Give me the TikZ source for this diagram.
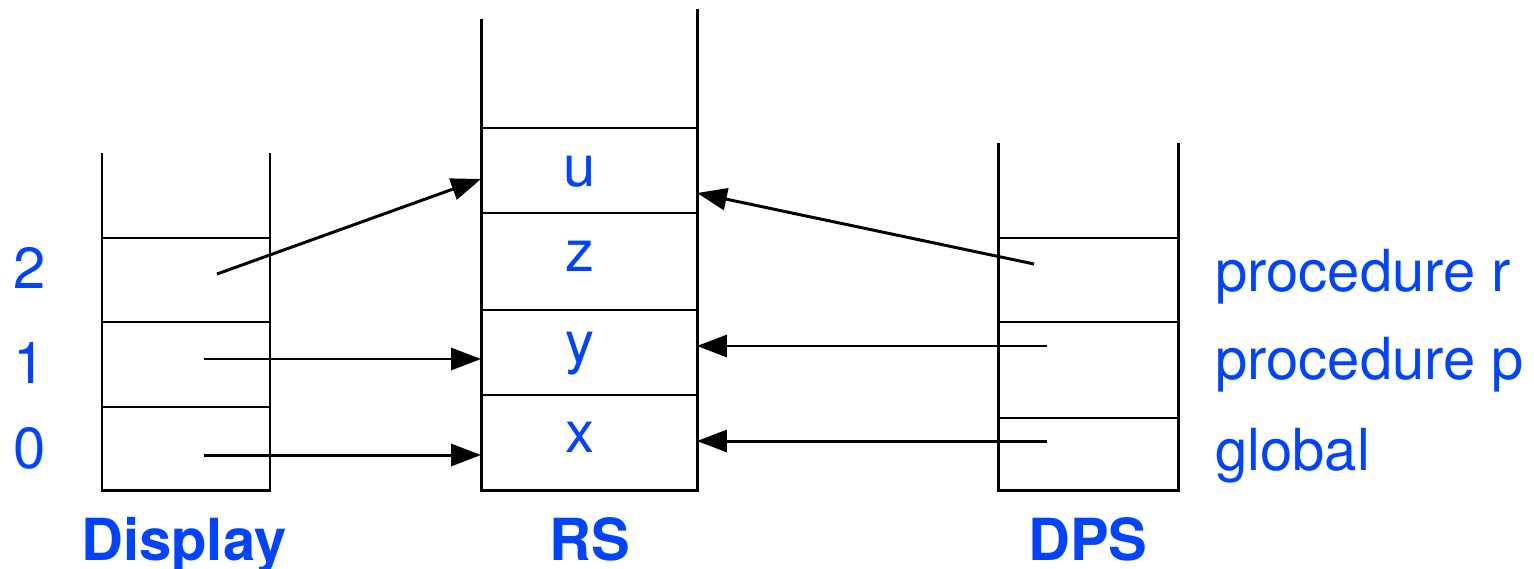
\documentclass[tikz,border=0pt]{standalone}
\usepackage{fontspec}
\setmainfont{TeX Gyre Heros}
\usetikzlibrary{arrows.meta}
\definecolor{lblue}{RGB}{0,68,255}
\begin{document}
\begin{tikzpicture}[x=0.02cm,y=-0.02cm,
  wall/.style={line width=1.7pt},
  ptr/.style={line width=1.7pt,-{Triangle[length=17pt,width=12.5pt]}},
  lbl/.style={text=lblue,font=\fontsize{33}{40}\selectfont,inner sep=0pt,anchor=base},
  lblw/.style={lbl,anchor=base west},
  ttl/.style={text=lblue,font=\fontsize{33}{40}\selectfont\bfseries,inner sep=0pt,anchor=base}]
\useasboundingbox (0,0) rectangle (1534,568);
% Display stack
\draw[wall] (102,153) -- (102,490) -- (270,490) -- (270,153);
\foreach \yy in {238,322,407} \draw[wall] (102,\yy) -- (270,\yy);
% RS stack
\draw[wall] (481,19) -- (481,490) -- (697,490) -- (697,9);
\foreach \yy in {128,213,310,395} \draw[wall] (481,\yy) -- (697,\yy);
% DPS stack
\draw[wall] (998,143) -- (998,490) -- (1178,490) -- (1178,143);
\foreach \yy in {238,322,418} \draw[wall] (998,\yy) -- (1178,\yy);
% RS contents
\node[lbl] (u) at (580,186) {u};
\node[lbl] (z) at (580,271) {z};
\node[lbl] (y) at (580,362) {y};
\node[lbl] (x) at (580,452) {x};
% display indices
\node[lbl] (n2) at (30,288) {2};
\node[lbl] (n1) at (30,383) {1};
\node[lbl] (n0) at (30,468) {0};
% DPS labels
\node[lblw] (pr) at (1215,291) {procedure r};
\node[lblw] (pp) at (1215,379) {procedure p};
\node[lblw] (gl) at (1215,470) {global};
% titles
\node[ttl] (tD) at (184,560) {Display};
\node[ttl] (tR) at (590,560) {RS};
\node[ttl] (tP) at (1088,560) {DPS};
% pointer coordinates
\coordinate (d2) at (217,274);
\coordinate (d1) at (204,359);
\coordinate (d0) at (204,455);
\coordinate (rsu) at (481,179);
\coordinate (rsy) at (481,359);
\coordinate (rsx) at (481,455);
\coordinate (rsuR) at (697,193);
\coordinate (rsyR) at (697,346);
\coordinate (rsxR) at (697,441);
\coordinate (p2) at (1034,264);
\coordinate (p1) at (1047,346);
\coordinate (p0) at (1047,441);
% pointers
\draw[ptr] (d2) -- (rsu);
\draw[ptr] (d1) -- (rsy);
\draw[ptr] (d0) -- (rsx);
\draw[ptr] (p2) -- (rsuR);
\draw[ptr] (p1) -- (rsyR);
\draw[ptr] (p0) -- (rsxR);
\end{tikzpicture}
\end{document}
